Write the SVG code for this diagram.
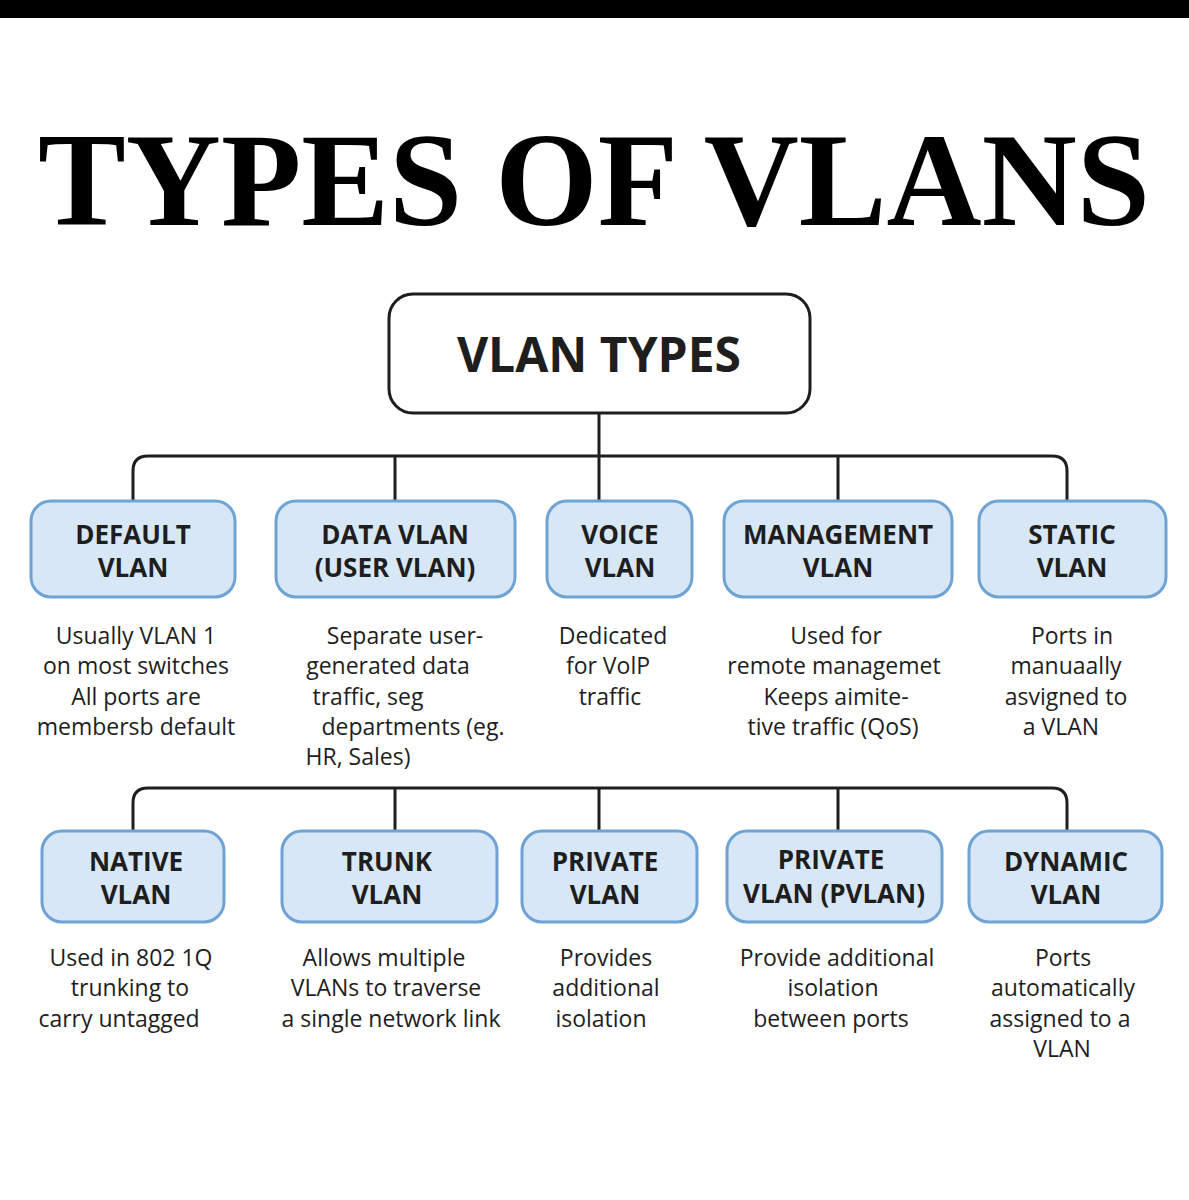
<svg xmlns="http://www.w3.org/2000/svg" width="1189" height="1200" viewBox="0 0 1189 1200">
<style>
.b{fill:#d7e7f6;stroke:#6fa3d4;stroke-width:3}
.bt{font-family:"Open Sans","Liberation Sans",sans-serif;font-weight:700;font-size:26px;fill:#1e1e1e;text-anchor:middle}
.d{font-family:"Open Sans","Liberation Sans",sans-serif;font-size:23px;fill:#1e1e1e;text-anchor:middle}
.c{fill:none;stroke:#1e1e1e;stroke-width:3}
</style>
<rect width="1189" height="1200" fill="#fff"/>
<rect width="1189" height="18" fill="#000"/>
<text x="594" y="225" text-anchor="middle" font-family="Liberation Serif,serif" font-weight="700" font-size="134" textLength="1112" lengthAdjust="spacingAndGlyphs">TYPES  OF VLANS</text>
<g id="connectors" class="c">
<path d="M599 413V456M133 500V471Q133 456 148 456H1052Q1067 456 1067 471V500M395 456V500M599 456V500M838 456V500"/>
<path d="M133 830V803Q133 788 148 788H1052Q1067 788 1067 803V830M395 788V830M599 788V830M838 788V830"/>
</g>
<g id="root"><rect x="389" y="294" width="421" height="119" rx="24" fill="#fff" stroke="#1e1e1e" stroke-width="3"/>
<text x="599" y="372" text-anchor="middle" font-family="Open Sans,Liberation Sans,sans-serif" font-weight="700" font-size="48" fill="#1e1e1e">VLAN TYPES</text></g>
<g id="default"><rect class="b" x="31" y="501" width="204" height="96" rx="20"/><text class="bt" x="133" y="544">DEFAULT</text><text class="bt" x="133" y="577">VLAN</text>
<text class="d" x="136" y="644">Usually VLAN 1</text><text class="d" x="136" y="674">on most switches</text><text class="d" x="136" y="705">All ports are</text><text class="d" x="136" y="735">membersb default</text></g>
<g id="data"><rect class="b" x="276" y="501" width="239" height="96" rx="20"/><text class="bt" x="395" y="544">DATA VLAN</text><text class="bt" x="395" y="577">(USER VLAN)</text>
<text class="d" x="405" y="644">Separate user-</text><text class="d" x="388" y="674">generated data</text><text class="d" x="368" y="705">traffic, seg</text><text class="d" x="413" y="735">departments (eg.</text><text class="d" x="358" y="765">HR, Sales)</text></g>
<g id="voice"><rect class="b" x="547" y="501" width="145" height="96" rx="20"/><text class="bt" x="620" y="544">VOICE</text><text class="bt" x="620" y="577">VLAN</text>
<text class="d" x="613" y="644">Dedicated</text><text class="d" x="608" y="674">for VolP</text><text class="d" x="610" y="705">traffic</text></g>
<g id="management"><rect class="b" x="724" y="501" width="228" height="96" rx="20"/><text class="bt" x="838" y="544">MANAGEMENT</text><text class="bt" x="838" y="577">VLAN</text>
<text class="d" x="836" y="644">Used for</text><text class="d" x="834" y="674">remote managemet</text><text class="d" x="836" y="705">Keeps aimite-</text><text class="d" x="833" y="735">tive traffic (QoS)</text></g>
<g id="static"><rect class="b" x="979" y="501" width="187" height="96" rx="20"/><text class="bt" x="1072" y="544">STATIC</text><text class="bt" x="1072" y="577">VLAN</text>
<text class="d" x="1072" y="644">Ports in</text><text class="d" x="1066" y="674">manuaally</text><text class="d" x="1066" y="705">asvigned to</text><text class="d" x="1061" y="735">a VLAN</text></g>
<g id="native"><rect class="b" x="42" y="831" width="182" height="91" rx="20"/><text class="bt" x="136" y="871">NATIVE</text><text class="bt" x="136" y="904">VLAN</text>
<text class="d" x="131" y="966">Used in 802 1Q</text><text class="d" x="130" y="996">trunking to</text><text class="d" x="119" y="1027">carry untagged</text></g>
<g id="trunk"><rect class="b" x="282" y="831" width="215" height="91" rx="20"/><text class="bt" x="387" y="871">TRUNK</text><text class="bt" x="387" y="904">VLAN</text>
<text class="d" x="384" y="966">Allows multiple</text><text class="d" x="386" y="996">VLANs to traverse</text><text class="d" x="391" y="1027">a single network link</text></g>
<g id="private"><rect class="b" x="522" y="831" width="175" height="91" rx="20"/><text class="bt" x="605" y="871">PRIVATE</text><text class="bt" x="605" y="904">VLAN</text>
<text class="d" x="606" y="966">Provides</text><text class="d" x="606" y="996">additional</text><text class="d" x="601" y="1027">isolation</text></g>
<g id="pvlan"><rect class="b" x="727" y="831" width="215" height="91" rx="20"/><text class="bt" x="831" y="869">PRIVATE</text><text class="bt" x="834" y="903">VLAN (PVLAN)</text>
<text class="d" x="837" y="966">Provide additional</text><text class="d" x="833" y="996">isolation</text><text class="d" x="831" y="1027">between ports</text></g>
<g id="dynamic"><rect class="b" x="969" y="831" width="193" height="91" rx="20"/><text class="bt" x="1066" y="871">DYNAMIC</text><text class="bt" x="1066" y="904">VLAN</text>
<text class="d" x="1063" y="966">Ports</text><text class="d" x="1063" y="996">automatically</text><text class="d" x="1060" y="1027">assigned to a</text><text class="d" x="1062" y="1057">VLAN</text></g>
</svg>
